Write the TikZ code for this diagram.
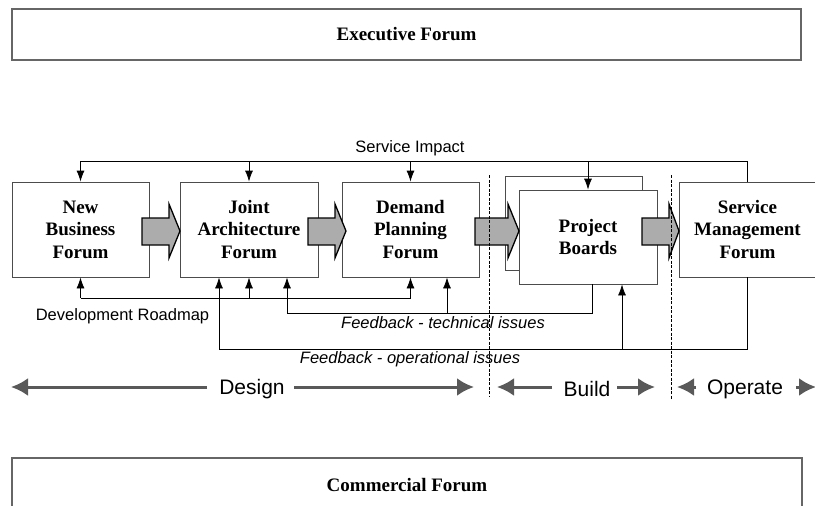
\documentclass[tikz,border=0pt]{standalone}
\usepackage{fontspec}
\setmainfont{Liberation Serif}
\newfontfamily\arialf{Liberation Sans}
\usetikzlibrary{arrows.meta}
\begin{document}
\begin{tikzpicture}[x=1pt,y=-1pt,
  forum/.style={draw=black!70, line width=0.8pt, fill=white, inner sep=0pt, align=center,
    font=\fontsize{19}{22.5}\selectfont\bfseries, minimum width=137pt, minimum height=95pt},
  wide/.style={draw=black!60, line width=1.4pt, inner sep=0pt,
    font=\fontsize{19}{22}\selectfont\bfseries},
  conn/.style={draw=black, line width=0.8pt},
  arr/.style={conn, -{Latex[length=11pt,width=8pt]}},
  lbl/.style={font=\arialf\fontsize{16.5}{18}\selectfont, inner sep=0pt},
  fb/.style={font=\arialf\itshape\fontsize{16.5}{18}\selectfont, inner sep=0pt},
  phase/.style={font=\arialf\fontsize{21}{23}\selectfont, inner sep=0pt},
  phasearr/.style={draw=black!65, line width=3pt, -{Latex[length=17pt,width=18pt]}},
  blockarrow/.style={draw=black, line width=1.3pt, fill=gray!65},
  divider/.style={draw=black, line width=0.7pt, dash pattern=on 3pt off 1.5pt}
]
\useasboundingbox (0,0) rectangle (815,506);
\clip (0,0) rectangle (815,506);

% top and bottom forums
\node[wide, minimum width=789pt, minimum height=51pt] (exec) at (406.5,34.5) {Executive Forum};
\node[wide, minimum width=790pt, minimum height=54pt] (comm) at (407,485) {Commercial Forum};

% main forums
\node[forum] (nbf) at (80.5,229.5) {New\\Business\\Forum};
\node[forum, minimum width=138pt] (jaf) at (249,229.5) {Joint\\Architecture\\Forum};
\node[forum] (dpf) at (410.5,229.5) {Demand\\Planning\\Forum};
\node[forum, minimum width=137pt, minimum height=94pt] (pbback) at (573.5,223) {};
\node[forum, minimum width=138pt, minimum height=94pt] (pb) at (588,237) {Project\\Boards};
\node[forum] (smf) at (747.5,229.5) {Service\\Management\\Forum};

% block arrows
\foreach \a/\b/\c in {142/169/180, 308/335/346, 475/508/519, 642/669/679}
  \draw[blockarrow] (\a,218) -- (\b,218) -- (\b,204) -- (\c,231) -- (\b,258) -- (\b,245) -- (\a,245) -- cycle;

% Service Impact bus
\coordinate (si) at (0,161);
\draw[conn] (nbf.north |- si) -- (smf.north |- si) -- (smf.north);
\foreach \n in {nbf,jaf,dpf,pb} \draw[arr] (\n.north |- si) -- (\n.north);
\node[lbl, anchor=base] (silbl) at (410,152) {Service Impact};

% Development Roadmap bus
\coordinate (dr) at (0,298);
\draw[conn] (nbf.south |- dr) -- (dpf.south |- dr);
\foreach \n in {nbf,jaf,dpf} \draw[arr] (\n.south |- dr) -- (\n.south);
\node[lbl, anchor=base] (drlbl) at (122.5,320) {Development Roadmap};

% Feedback technical
\coordinate (tsrc) at ([xshift=4pt]pb.south);
\coordinate (tj) at ([xshift=38pt]jaf.south);
\coordinate (td) at ([xshift=36.5pt]dpf.south);
\coordinate (ty) at (0,313);
\draw[conn] (tsrc) -- (tsrc |- ty) -- (tj |- ty);
\draw[arr] (tj |- ty) -- (tj);
\draw[arr] (td |- ty) -- (td);
\node[fb, anchor=base] (tlbl) at (443,328) {Feedback - technical issues};

% Feedback operational
\coordinate (osrc) at (smf.south);
\coordinate (oj) at ([xshift=-30pt]jaf.south);
\coordinate (op) at ([xshift=34pt]pb.south);
\coordinate (oy) at (0,349);
\draw[conn] (osrc) -- (osrc |- oy) -- (oj |- oy);
\draw[arr] (oj |- oy) -- (oj);
\draw[arr] (op |- oy) -- (op);
\node[fb, anchor=base] (olbl) at (410,363) {Feedback - operational issues};

% dividers
\coordinate (dv1a) at (489,175); \coordinate (dv1b) at (489,396);
\coordinate (dv2a) at (671,175); \coordinate (dv2b) at (671,399);
\draw[divider] (dv1a) -- (dv1b);
\draw[divider] (dv2a) -- (dv2b);

% phases
\node[phase] (design) at (252,389) {Design};
\node[phase] (build) at (587,389) {Build};
\node[phase] (operate) at (745,389) {Operate};
\coordinate (d1) at (207,387); \coordinate (d2) at (11,387);
\coordinate (d3) at (294,387); \coordinate (d4) at (474,387);
\coordinate (b1) at (552,387); \coordinate (b2) at (497,387);
\coordinate (b3) at (617,387); \coordinate (b4) at (655,387);
\coordinate (o1) at (696,387); \coordinate (o2) at (677,387);
\coordinate (o3) at (796,387); \coordinate (o4) at (816,387);
\draw[phasearr] (d1) -- (d2);
\draw[phasearr] (d3) -- (d4);
\draw[phasearr] (b1) -- (b2);
\draw[phasearr] (b3) -- (b4);
\draw[phasearr] (o1) -- (o2);
\draw[phasearr] (o3) -- (o4);
\end{tikzpicture}
\end{document}
